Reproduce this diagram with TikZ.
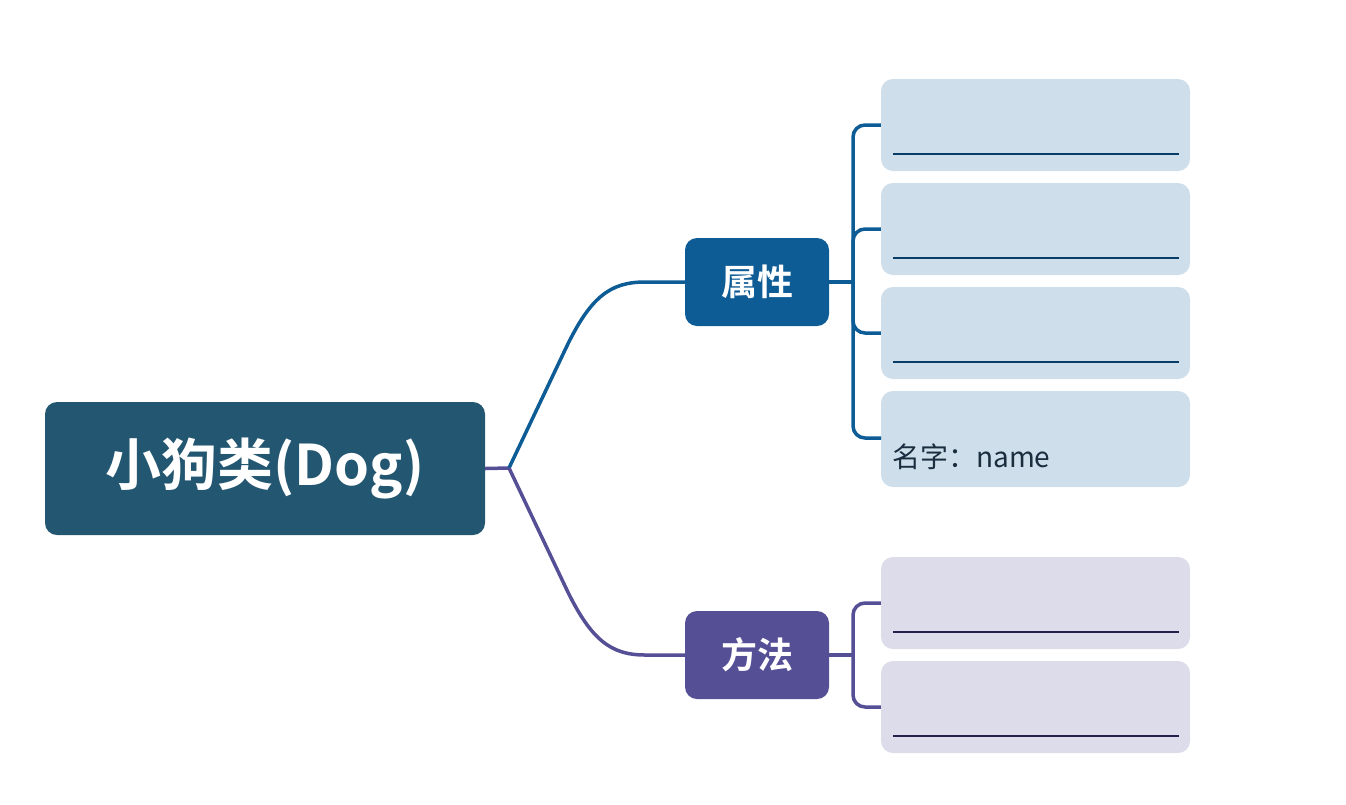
\documentclass[tikz,border=0pt]{standalone}
\usepackage{fontspec}
\newfontfamily\cjk{Noto Sans CJK SC}
\newfontfamily\cjkb{Noto Sans CJK SC Bold}
\definecolor{rootc}{HTML}{235670}
\definecolor{attrc}{HTML}{0E5C96}
\definecolor{methc}{HTML}{554F96}
\definecolor{attrleaf}{HTML}{CFDEEB}
\definecolor{methleaf}{HTML}{DCDCEA}
\definecolor{attrline}{HTML}{0A3D66}
\definecolor{methline}{HTML}{22204A}
\definecolor{leaftext}{HTML}{1A2E40}
\begin{document}
\begin{tikzpicture}[x=1pt,y=-1pt,
  rootbox/.style={fill=rootc,rounded corners=12pt,minimum width=440pt,minimum height=133pt,inner sep=0pt,text=white,font=\cjkb\fontsize{56}{64}\selectfont},
  catbox/.style={rounded corners=12pt,minimum width=144pt,minimum height=88pt,inner sep=0pt,text=white,font=\cjkb\fontsize{36}{42}\selectfont},
  leafbox/.style={rounded corners=12pt,minimum width=309pt,minimum height=92pt,inner sep=0pt},
  conn/.style={line width=3.5pt},
  uline/.style={line width=2.4pt}]
\useasboundingbox (0,0) rectangle (1346,804);
\node[rootbox] (root) at (265,468.5) {小狗类(Dog)};
\node[catbox,fill=attrc] (attr) at (757,282) {属性};
\node[catbox,fill=methc] (meth) at (757,655) {方法};
% attribute leaves
\node[leafbox,fill=attrleaf] (a1) at (1035.5,125) {};
\node[leafbox,fill=attrleaf] (a2) at (1035.5,229) {};
\node[leafbox,fill=attrleaf] (a3) at (1035.5,333) {};
\node[leafbox,fill=attrleaf,minimum height=96pt] (a4) at (1035.5,439) {};
\node[anchor=base west,inner sep=0pt,text=leaftext,font=\cjk\fontsize{28}{32}\selectfont] (a4t) at (892,467) {名字：name};
% method leaves
\node[leafbox,fill=methleaf] (m1) at (1035.5,603) {};
\node[leafbox,fill=methleaf] (m2) at (1035.5,707) {};
% underlines
\foreach \n/\y in {a1/154,a2/258,a3/362} \draw[uline,attrline] (893,\y) -- (1179,\y);
\foreach \n/\y in {m1/632,m2/736} \draw[uline,methline] (893,\y) -- (1179,\y);
% root junction
\coordinate (j) at (509,468);
\draw[conn,methc] (root.east) -- (j);
\draw[conn,attrc] (j) -- (565,350) .. controls (590,297) and (610,282) .. (645,282) -- (attr.west);
\draw[conn,methc] (j) -- (565,586) .. controls (590,639) and (610,655) .. (645,655) -- (meth.west);
% attribute bracket
\coordinate (ab) at (853,282);
\draw[conn,attrc] (attr.east) -- (ab);
\draw[conn,attrc,rounded corners=12pt] (a1.west) -- (853,125) -- (853,438) -- (881,438);
\draw[conn,attrc,rounded corners=12pt] (a2.west) -- (853,229) -- (853,333) -- (a3.west);
% method bracket
\coordinate (mb) at (853,655);
\draw[conn,methc] (meth.east) -- (mb);
\draw[conn,methc,rounded corners=12pt] (m1.west) -- (853,603) -- (853,707) -- (m2.west);
\end{tikzpicture}
\end{document}
